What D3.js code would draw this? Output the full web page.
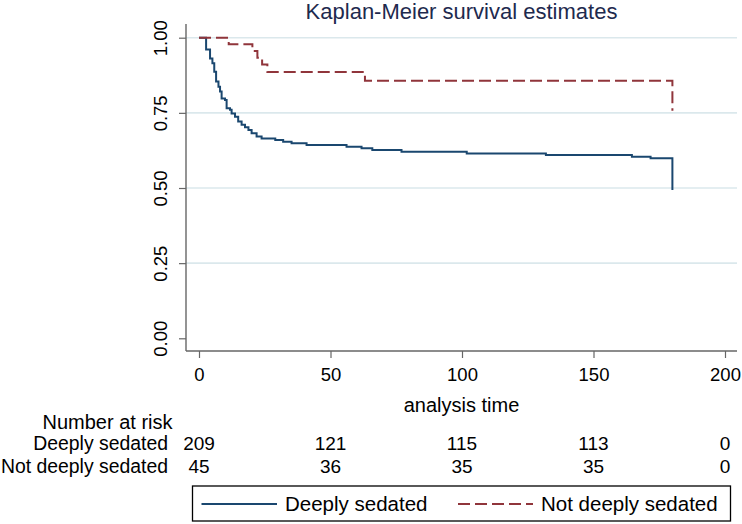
<!DOCTYPE html>
<html>
<head>
<meta charset="utf-8">
<script src="https://cdn.jsdelivr.net/npm/d3@7"></script>
<style>
  body { margin: 0; background: #fff; }
  text { font-family: "Liberation Sans", Arial, sans-serif; }
</style>
</head>
<body>
<div id="chart"></div>
<script>
// Kaplan-Meier step points: time and survival
let deepTime = [0, 2.7, 4.2, 5.1, 5.8, 6.5, 7.4, 8.0, 8.6, 9.9, 10.5, 11.8, 12.4, 13.7, 14.9, 16.2, 17.5, 18.8, 20.0, 21.9, 23.8,
                29, 32, 35.2, 40.9, 56.1, 61.8, 65.9, 77, 101.8, 131.9, 164.6, 171.7, 180];
let deepSurv = [1.0, 0.961, 0.931, 0.915, 0.887, 0.854, 0.837, 0.821, 0.798, 0.793, 0.765, 0.760, 0.748, 0.737, 0.721, 0.710, 0.702, 0.693, 0.682, 0.671, 0.665,
                0.660, 0.654, 0.649, 0.643, 0.637, 0.632, 0.626, 0.621, 0.615, 0.610, 0.604, 0.599, 0.493];

let notDeepTime = [0, 11.3, 20.3, 22.2, 24.0, 26.0, 63.1, 180];
let notDeepSurv = [1.0, 0.978, 0.956, 0.933, 0.911, 0.886, 0.857, 0.757];

let xTicks = [0, 50, 100, 150, 200];
let yTicks = [0, 0.25, 0.5, 0.75, 1];
let groups = ["Deeply sedated", "Not deeply sedated"];
let atRisk = [[209, 121, 115, 113, 0], [45, 36, 35, 35, 0]];

function main() {
    let width = 742, height = 524;
    let colors = ["#1a476f", "#90353b"];

    let svg = d3.select("#chart").append("svg")
        .attr("width", width)
        .attr("height", height);

    svg.append("rect").attr("width", width).attr("height", height).attr("fill", "#fff");

    let x = d3.scaleLinear().domain([0, 200]).range([199, 725]);
    let y = d3.scaleLinear().domain([0, 1]).range([338.3, 37.7]);

    let left = 186, right = 737, top = 24, bottom = 351;

    // grid lines (no line at 0)
    svg.append("g")
        .selectAll("line")
        .data(yTicks.filter(d => d > 0))
        .enter()
        .append("line")
        .attr("x1", left).attr("x2", right)
        .attr("y1", d => y(d)).attr("y2", d => y(d))
        .attr("stroke", "#dbe8ec")
        .attr("stroke-width", 1.6);

    // y axis
    let yAxis = svg.append("g")
        .attr("transform", "translate(" + left + ",0)")
        .call(d3.axisLeft(y).tickValues(yTicks).tickFormat(d3.format(".2f")).tickSize(7).tickSizeOuter(0));
    yAxis.select(".domain").remove();
    yAxis.append("line").attr("x1", 0).attr("x2", 0).attr("y1", top).attr("y2", bottom)
        .attr("stroke", "#666").attr("stroke-width", 1.4);
    yAxis.selectAll(".tick line").attr("stroke", "#666").attr("stroke-width", 1.2);
    yAxis.selectAll(".tick text")
        .attr("x", 0).attr("dy", 0)
        .attr("transform", "translate(-19,0) rotate(-90)")
        .attr("text-anchor", "middle")
        .attr("font-size", 18.5)
        .attr("fill", "#000")
        .style("font-family", "Liberation Sans, Arial, sans-serif");

    // x axis
    let xAxis = svg.append("g")
        .attr("transform", "translate(0," + bottom + ")")
        .call(d3.axisBottom(x).tickValues(xTicks).tickSize(7).tickSizeOuter(0));
    xAxis.select(".domain").remove();
    xAxis.append("line").attr("x1", left).attr("x2", right).attr("y1", 0).attr("y2", 0)
        .attr("stroke", "#666").attr("stroke-width", 1.4);
    xAxis.selectAll(".tick line").attr("stroke", "#666").attr("stroke-width", 1.2);
    xAxis.selectAll(".tick text")
        .attr("y", 24).attr("dy", "0.32em")
        .attr("font-size", 18.5)
        .attr("fill", "#000")
        .style("font-family", "Liberation Sans, Arial, sans-serif");

    // curves
    let line = d3.line()
        .x(d => x(d[0]))
        .y(d => y(d[1]))
        .curve(d3.curveStepAfter);

    let deep = deepTime.map((t, i) => [t, deepSurv[i]]);
    let notDeep = notDeepTime.map((t, i) => [t, notDeepSurv[i]]);

    svg.append("path")
        .datum(deep)
        .attr("fill", "none")
        .attr("stroke", colors[0])
        .attr("stroke-width", 2)
        .attr("d", line);

    svg.append("path")
        .datum(notDeep)
        .attr("fill", "none")
        .attr("stroke", colors[1])
        .attr("stroke-width", 2)
        .attr("stroke-dasharray", "12,5")
        .attr("d", line);

    // title
    svg.append("text")
        .attr("x", (left + right) / 2)
        .attr("y", 11)
        .attr("dy", "0.35em")
        .attr("text-anchor", "middle")
        .attr("font-size", 22)
        .attr("fill", "#1e2a4e")
        .text("Kaplan-Meier survival estimates");

    // axis title
    svg.append("text")
        .attr("x", (left + right) / 2)
        .attr("y", 405)
        .attr("dy", "0.35em")
        .attr("text-anchor", "middle")
        .attr("font-size", 20)
        .attr("fill", "#000")
        .text("analysis time");

    // number at risk table
    svg.append("text")
        .attr("x", 172.5).attr("y", 421.5).attr("dy", "0.35em")
        .attr("text-anchor", "end")
        .attr("font-size", 20)
        .text("Number at risk");

    let rowY = [443.5, 466];
    groups.forEach((g, i) => {
        svg.append("text")
            .attr("x", 168).attr("y", rowY[i]).attr("dy", "0.35em")
            .attr("text-anchor", "end")
            .attr("font-size", 19.4)
            .text(g);
        svg.append("g")
            .selectAll("text")
            .data(atRisk[i])
            .enter()
            .append("text")
            .attr("x", (d, j) => x(xTicks[j]))
            .attr("y", rowY[i]).attr("dy", "0.35em")
            .attr("text-anchor", "middle")
            .attr("font-size", 19)
            .text(d => d);
    });

    // legend
    let legend = svg.append("g");
    legend.append("rect")
        .attr("x", 192.5).attr("y", 486)
        .attr("width", 538).attr("height", 35)
        .attr("fill", "#fff")
        .attr("stroke", "#000")
        .attr("stroke-width", 1.3);
    let legX = [[201.5, 277], [458, 533]];
    groups.forEach((g, i) => {
        legend.append("line")
            .attr("x1", legX[i][0]).attr("x2", legX[i][1])
            .attr("y1", 504).attr("y2", 504)
            .attr("stroke", colors[i])
            .attr("stroke-width", 2)
            .attr("stroke-dasharray", i == 1 ? "12,5" : null);
        legend.append("text")
            .attr("x", legX[i][1] + 8).attr("y", 504).attr("dy", "0.35em")
            .attr("font-size", 20.5)
            .text(g);
    });
}

main();
</script>
</body>
</html>
